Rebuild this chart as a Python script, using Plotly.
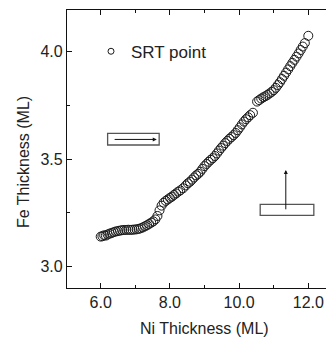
import plotly.graph_objects as go

# Data: SRT points (Ni thickness vs Fe thickness)
ni_thickness = [6.00, 6.05, 6.10, 6.15, 6.20, 6.26, 6.32, 6.38, 6.44, 6.50,
                6.56, 6.62, 6.68, 6.74, 6.80, 6.86, 6.92, 6.98, 7.04, 7.10,
                7.16, 7.22, 7.28, 7.34, 7.40, 7.46, 7.52, 7.58, 7.64, 7.70,
                7.76, 7.82, 7.88, 7.94, 8.00, 8.06, 8.12, 8.18, 8.24, 8.30,
                8.38, 8.46, 8.52, 8.58, 8.64, 8.70, 8.76, 8.82, 8.88, 8.94,
                9.00, 9.06, 9.12, 9.18, 9.24, 9.30, 9.36, 9.42, 9.48, 9.54,
                9.60, 9.66, 9.72, 9.78, 9.84, 9.90, 9.96, 10.02, 10.08, 10.14,
                10.20, 10.26, 10.32, 10.40, 10.52, 10.58, 10.64, 10.70, 10.76, 10.82,
                10.88, 10.94, 11.00, 11.06, 11.12, 11.18, 11.24, 11.30, 11.36, 11.42,
                11.48, 11.54, 11.60, 11.66, 11.72, 11.78, 11.84, 11.90, 12.00]
fe_thickness = [3.140, 3.142, 3.146, 3.145, 3.150, 3.154, 3.157, 3.161, 3.164, 3.166,
                3.168, 3.170, 3.171, 3.171, 3.172, 3.171, 3.172, 3.173, 3.174, 3.176,
                3.179, 3.183, 3.188, 3.193, 3.199, 3.205, 3.211, 3.220, 3.236, 3.262,
                3.284, 3.298, 3.306, 3.313, 3.320, 3.326, 3.334, 3.341, 3.349, 3.355,
                3.365, 3.378, 3.388, 3.395, 3.405, 3.415, 3.425, 3.432, 3.442, 3.455,
                3.468, 3.478, 3.488, 3.497, 3.505, 3.515, 3.527, 3.540, 3.552, 3.563,
                3.575, 3.585, 3.595, 3.603, 3.612, 3.622, 3.635, 3.648, 3.662, 3.675,
                3.686, 3.695, 3.705, 3.716, 3.768, 3.775, 3.782, 3.788, 3.793, 3.799,
                3.806, 3.813, 3.821, 3.832, 3.845, 3.858, 3.873, 3.888, 3.903, 3.918,
                3.933, 3.948, 3.962, 3.977, 3.992, 4.008, 4.024, 4.040, 4.074]

x_ticks = [6, 8, 10, 12]
x_tick_labels = ["6.0", "8.0", "10.0", "12.0"]
y_ticks = [3.0, 3.5, 4.0]
y_tick_labels = ["3.0", "3.5", "4.0"]

FONT = "Liberation Sans, Arial, Helvetica, sans-serif"
TXT = "#222222"

# window-pixel layout of the plot area (page has an 8px body margin)
PX_L, PX_R, PX_T, PX_B = 67, 334, 10, 288
PW, PH = PX_R - PX_L, PX_B - PX_T

fig = go.Figure()
fig.add_trace(go.Scatter(
    x=ni_thickness, y=fe_thickness, mode="markers", name="SRT point",
    showlegend=False,
    marker=dict(symbol="circle-open", size=9, color="#1a1a1a",
                line=dict(width=1, color="#1a1a1a")),
))
# legend entry (smaller symbol as in the reference)
fig.add_trace(go.Scatter(
    x=[None], y=[None], mode="markers", name="SRT point",
    marker=dict(symbol="circle-open", size=6, color="#1a1a1a",
                line=dict(width=1, color="#1a1a1a")),
))

# boxes with arrows (guides)
box_color = "#555555"
fig.add_shape(type="rect", xref="x", yref="y", x0=6.20, x1=7.69, y0=3.566, y1=3.620,
              line=dict(color=box_color, width=1.3))
fig.add_shape(type="rect", xref="x", yref="y", x0=10.61, x1=12.16, y0=3.239, y1=3.290,
              line=dict(color=box_color, width=1.3))
fig.add_annotation(x=7.62, y=3.592, ax=6.36, ay=3.592, xref="x", yref="y",
                   axref="x", ayref="y", showarrow=True, arrowhead=2, arrowsize=0.8,
                   arrowwidth=1, arrowcolor="#111111", text="")
fig.add_annotation(x=11.35, y=3.45, ax=11.35, ay=3.26, xref="x", yref="y",
                   axref="x", ayref="y", showarrow=True, arrowhead=2, arrowsize=0.8,
                   arrowwidth=1, arrowcolor="#111111", text="")

# axis titles
fig.add_annotation(text="Ni Thickness (ML)", xref="paper", yref="paper",
                   x=(204 - PX_L) / PW, y=(PX_B - 328) / PH, showarrow=False,
                   font=dict(family=FONT, size=16, color=TXT), xanchor="center", yanchor="middle")
fig.add_annotation(text="Fe Thickness (ML)", xref="paper", yref="paper",
                   x=(24 - PX_L) / PW, y=(PX_B - 162) / PH, showarrow=False, textangle=-90,
                   font=dict(family=FONT, size=16, color=TXT), xanchor="center", yanchor="middle")

axis_common = dict(showgrid=False, zeroline=False, showline=True, linecolor="#111111",
                   linewidth=1.2, ticks="inside", tickcolor="#111111", tickwidth=1,
                   ticklen=5, mirror="ticks",
                   tickfont=dict(family=FONT, size=16, color=TXT))

fig.update_xaxes(range=[5.026, 12.743], tickvals=x_ticks, ticktext=x_tick_labels,
                 minor=dict(tickvals=[7, 9, 11], ticks="inside", ticklen=3,
                            tickcolor="#111111", tickwidth=1),
                 **axis_common)
fig.update_yaxes(range=[2.901, 4.194], tickvals=y_ticks, ticktext=y_tick_labels,
                 minor=dict(tickvals=[3.25, 3.75], ticks="inside", ticklen=3,
                            tickcolor="#111111", tickwidth=1),
                 **axis_common)

OFF = 8  # body margin of the html page
fig.update_layout(
    width=334 - OFF, height=339 - OFF,
    margin=dict(l=PX_L - OFF, r=0, t=PX_T - OFF, b=339 - PX_B, pad=0),
    plot_bgcolor="white", paper_bgcolor="white",
    font=dict(family=FONT, size=16, color=TXT),
    showlegend=True,
    legend=dict(x=(91 - PX_L) / PW, y=(PX_B - 51.7) / PH, xanchor="left", yanchor="middle",
                bgcolor="rgba(0,0,0,0)", borderwidth=0,
                font=dict(family=FONT, size=17, color=TXT), itemwidth=30),
)

fig.write_html("out.html")
